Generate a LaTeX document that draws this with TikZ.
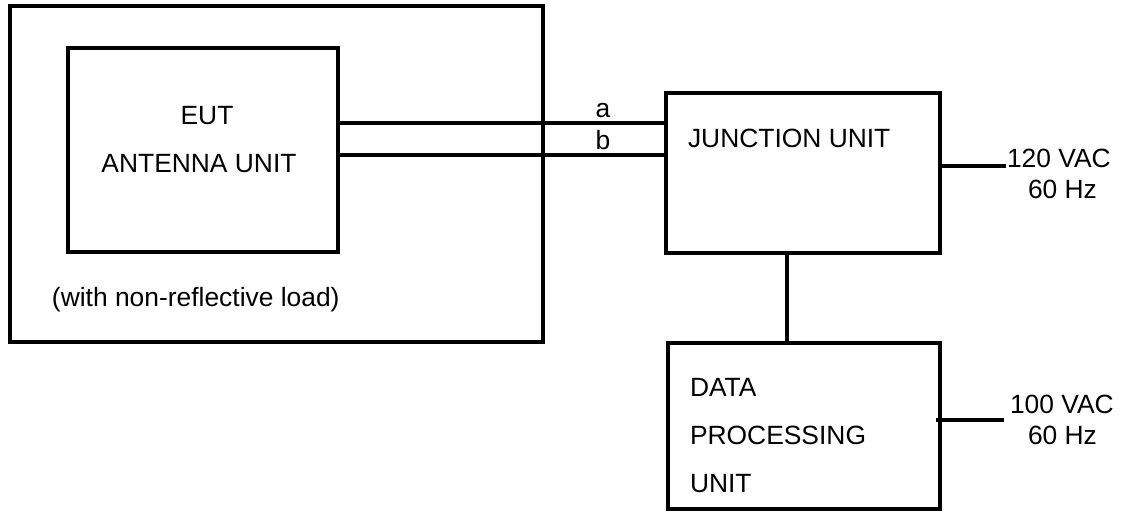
\documentclass[tikz,border=0pt]{standalone}
\usepackage{fontspec}
\setmainfont{Liberation Sans}
\begin{document}
\begin{tikzpicture}[x=0.5pt, y=-0.5pt,
  every node/.style={font=\fontsize{13.2}{15}\selectfont, inner sep=0pt, outer sep=0pt},
  unitbox/.style={draw, line width=1.6pt, anchor=north west},
  wire/.style={line width=1.6pt},
  lbl/.style={anchor=base west},
  clbl/.style={anchor=base}]
  \useasboundingbox (0,0) rectangle (1126,514);

  % enclosure and antenna unit
  \node[unitbox, minimum width=266.5pt, minimum height=168pt] (encl) at (10,6) {};
  \node[unitbox, minimum width=135pt, minimum height=102pt] (eut) at (68,48) {};
  \node[clbl] (eutA) at (207,124) {EUT};
  \node[clbl] (eutB) at (199,172) {ANTENNA UNIT};
  \node[lbl] (load) at (52,306) {(with non-reflective load)};

  % junction unit
  \node[unitbox, minimum width=137pt, minimum height=80pt] (jun) at (666,93) {};
  \node[lbl] (junT) at (688,147) {JUNCTION UNIT};

  % data processing unit
  \node[unitbox, minimum width=136pt, minimum height=83pt] (dp) at (668,343) {};
  \node[lbl] (dpA) at (690,396) {DATA};
  \node[lbl] (dpB) at (690,444) {PROCESSING};
  \node[lbl] (dpC) at (690,492) {UNIT};

  % cable labels
  \node[clbl] (la) at (603,117) {a};
  \node[clbl] (lb) at (603,149) {b};

  % mains supply labels
  \node[lbl] (p1a) at (1007,167) {120 VAC};
  \node[lbl] (p1b) at (1028,198) {60 Hz};
  \node[lbl] (p2a) at (1010,413) {100 VAC};
  \node[lbl] (p2b) at (1028,444) {60 Hz};
  \coordinate (p1) at (1006,166);
  \coordinate (p2) at (1004,420);

  % cables
  \draw[wire] ([yshift=13.5pt]eut.east) -- ([yshift=25pt]jun.west);
  \draw[wire] ([yshift=-2.5pt]eut.east) -- ([yshift=9pt]jun.west);
  \draw[wire] ([xshift=-8pt]jun.south) -- ([xshift=-8.5pt]dp.north);
  \draw[wire] ([yshift=3.5pt]jun.east) -- (p1);
  \draw[wire] ([xshift=-2pt,yshift=3pt]dp.east) -- (p2);
\end{tikzpicture}
\end{document}
